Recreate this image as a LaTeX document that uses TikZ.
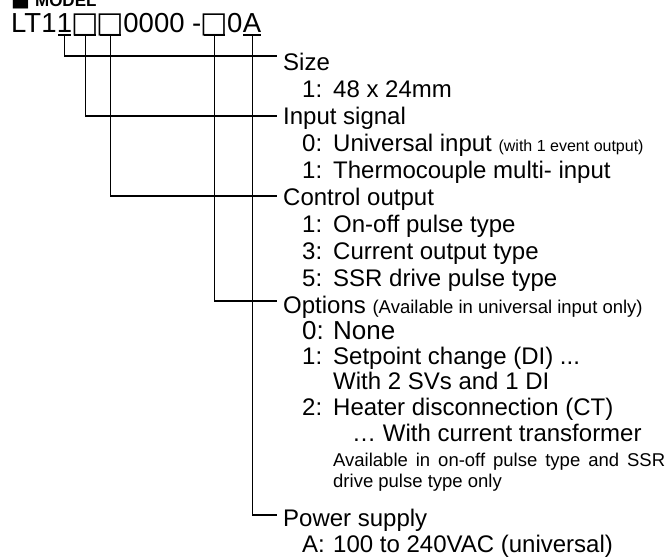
\documentclass[tikz,border=0pt]{standalone}
\usepackage{fontspec}
\setmainfont{Liberation Sans}
\newfontfamily\symfont{DejaVu Sans}
\usetikzlibrary{positioning}

\newcommand{\sq}{\makebox[25pt]{\symfont\fontsize{29}{30}\selectfont □}}
\newcommand{\codeitem}[2]{\makebox[31pt][l]{#1}#2}

\begin{document}
\begin{tikzpicture}[
    x=1pt, y=-1pt,
    codepart/.style={anchor=base west, inner sep=0pt, font=\fontsize{27.5}{30}\selectfont},
    head/.style={anchor=base west, inner xsep=6pt, inner ysep=0pt, font=\fontsize{24}{28}\selectfont},
    entry/.style={anchor=base west, inner sep=0pt, font=\fontsize{24}{28}\selectfont},
    note/.style={anchor=base west, inner sep=0pt, font=\fontsize{18.5}{22}\selectfont},
    link/.style={line width=1.1pt},
    underbar/.style={line width=1.8pt}
]
\useasboundingbox (0,0) rectangle (666,558);

\node (title) [anchor=base west, inner sep=0pt, font=\bfseries\fontsize{17}{20}\selectfont] at (11,6) {{\symfont\fontsize{20}{22}\selectfont ■}\hspace{5pt}MODEL};

% model code
\node (lt) [codepart] at (11,32) {LT1};
\node (dsize) [codepart] at (lt.base east) {1};
\node (dinput) [codepart] at (dsize.base east) {\sq};
\node (dctrl) [codepart] at (dinput.base east) {\sq};
\node (zeros) [codepart] at (dctrl.base east) {0000~-~};
\node (dopt) [codepart] at (zeros.base east) {\sq};
\node (zero) [codepart] at (dopt.base east) {0};
\node (dpower) [codepart] at (zero.base east) {A};

\draw [underbar] ([shift={(1.5pt,-3pt)}]dsize.base west) -- ([shift={(-1.5pt,-3pt)}]dsize.base east);
\draw [underbar] ([shift={(2pt,-3pt)}]dinput.base west) -- ([shift={(-2pt,-3pt)}]dinput.base east);
\draw [underbar] ([shift={(2pt,-3pt)}]dctrl.base west) -- ([shift={(-2pt,-3pt)}]dctrl.base east);
\draw [underbar] ([shift={(2pt,-3pt)}]dopt.base west) -- ([shift={(-2pt,-3pt)}]dopt.base east);
\draw [underbar] ([shift={(0.5pt,-3pt)}]dpower.base west) -- ([shift={(-0.5pt,-3pt)}]dpower.base east);

% size
\node (size) [head] at (277,70) {Size};
\node (size1) [entry] at (302,97) {\codeitem{1:}{48 x 24mm}};

% input signal
\node (input) [head] at (277,124) {Input signal};
\node (input0) [entry] at (302,151) {\codeitem{0:}{Universal input {\fontsize{16}{18}\selectfont(with 1 event output)}}};
\node (input1) [entry] at (302,178) {\codeitem{1:}{Thermocouple multi- input}};

% control output
\node (ctrl) [head] at (277,205) {Control output};
\node (ctrl1) [entry] at (302,232) {\codeitem{1:}{On-off pulse type}};
\node (ctrl3) [entry] at (302,259) {\codeitem{3:}{Current output type}};
\node (ctrl5) [entry] at (302,286) {\codeitem{5:}{SSR drive pulse type}};

% options
\node (opt) [head] at (277,313) {Options {\fontsize{18.5}{22}\selectfont(Available in universal input only)}};
\node (opt0) [entry, font=\fontsize{26}{30}\selectfont] at (302,339) {\codeitem{0:}{None}};
\node (opt1) [entry] at (302,364) {\codeitem{1:}{Setpoint change (DI) ...}};
\node (opt1b) [entry] at (333,389) {With 2 SVs and 1 DI};
\node (opt2) [entry] at (302,415) {\codeitem{2:}{Heater disconnection (CT)}};
\node (opt2b) [entry] at (352,441) {… With current transformer};
\node (opt2c) [note] at (333,466) {\makebox[332pt][s]{Available in on-off pulse type and SSR}};
\node (opt2d) [note] at (333,487) {drive pulse type only};

% power supply
\node (power) [head] at (277,526) {Power supply};
\node (powerA) [entry] at (302,552) {\codeitem{A:}{100 to 240VAC (universal)}};

\draw [link] ([yshift=-4pt]dsize.base) |- ([yshift=14pt]size.base west);
\draw [link] ([yshift=-4pt]dinput.base) |- ([yshift=8pt]input.base west);
\draw [link] ([yshift=-4pt]dctrl.base) |- ([yshift=9pt]ctrl.base west);
\draw [link] ([yshift=-4pt]dopt.base) |- ([yshift=12pt]opt.base west);
\draw [link] ([yshift=-4pt]dpower.base) |- ([yshift=11pt]power.base west);

\end{tikzpicture}
\end{document}
